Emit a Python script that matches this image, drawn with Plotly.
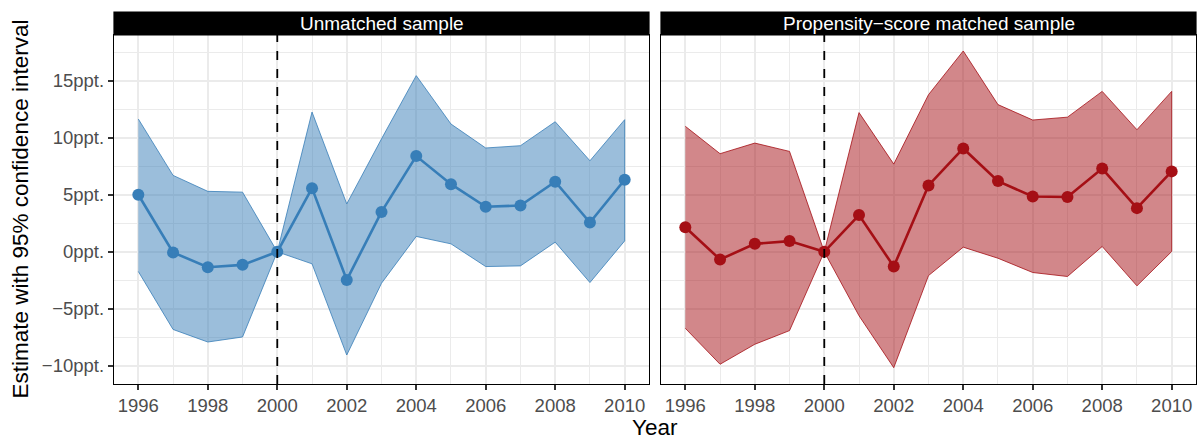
import plotly.graph_objects as go

years = list(range(1996, 2011))

# Unmatched sample
um_est = [5.0, -0.05, -1.35, -1.14, 0.0, 5.58, -2.46, 3.5, 8.39, 5.93, 3.95, 4.06, 6.14, 2.57, 6.32]
um_hi = [11.64, 6.7, 5.3, 5.23, 0.0, 12.25, 4.2, 9.9, 15.44, 11.2, 9.1, 9.3, 11.4, 7.98, 11.58]
um_lo = [-1.72, -6.8, -7.9, -7.46, 0.0, -1.05, -9.04, -2.75, 1.35, 0.7, -1.29, -1.23, 0.85, -2.69, 0.96]

# Propensity-score matched sample
pm_est = [2.16, -0.67, 0.7, 0.94, 0.0, 3.22, -1.29, 5.82, 9.06, 6.2, 4.85, 4.8, 7.3, 3.83, 7.05]
pm_hi = [11.0, 8.6, 9.53, 8.8, 0.0, 12.2, 7.69, 13.77, 17.6, 12.9, 11.55, 11.8, 14.06, 10.7, 14.06]
pm_lo = [-6.7, -9.85, -8.1, -6.9, 0.0, -5.6, -10.15, -2.08, 0.41, -0.56, -1.81, -2.16, 0.47, -2.98, 0.03]

panel_titles = ["Unmatched sample", "Propensity\u2212score matched sample"]
y_ticks = [-10, -5, 0, 5, 10, 15]
y_ticktext = [("\u2212" if v < 0 else "") + f"{abs(v)}ppt." for v in y_ticks]
x_ticks = list(range(1996, 2011, 2))

W, H = 1201, 439
FONT = "Liberation Sans, Arial, sans-serif"

fig = go.Figure()

series = [
    (um_est, um_hi, um_lo, "#377EB8", "rgba(55,126,184,0.5)", "x", "y"),
    (pm_est, pm_hi, pm_lo, "#A50F15", "rgba(165,15,21,0.5)", "x2", "y2"),
]
for est, hi, lo, col, fillc, xa, ya in series:
    fig.add_trace(go.Scatter(
        x=years + years[::-1], y=hi + lo[::-1], fill="toself", fillcolor=fillc,
        mode="lines", line=dict(color=col, width=0.8), xaxis=xa, yaxis=ya,
        showlegend=False, hoverinfo="skip"))
    fig.add_trace(go.Scatter(
        x=years, y=est, mode="lines+markers", line=dict(color=col, width=2.6),
        marker=dict(color=col, size=12), xaxis=xa, yaxis=ya, showlegend=False))

px = lambda v: v / W
py = lambda v: (H - v) / H

dom_x1 = [px(114), px(649)]
dom_x2 = [px(661), px(1196)]
dom_y = [py(384), py(35)]

grid = "#EBEBEB"
TICKFONT = dict(family=FONT, size=18.5, color="#4D4D4D")
xcommon = dict(range=[1995.3, 2010.7], tickvals=x_ticks, showgrid=True, gridcolor=grid, gridwidth=1.8,
               minor=dict(dtick=1, tick0=1995, showgrid=True, gridcolor=grid, gridwidth=1.0, ticks=""),
               showline=True, mirror=True, linecolor="black", linewidth=1.4,
               ticks="outside", ticklen=5, tickcolor="#333333", tickwidth=1.6,
               tickfont=TICKFONT, zeroline=False)
ycommon = dict(range=[-11.58, 19.0], tickvals=y_ticks, showgrid=True, gridcolor=grid, gridwidth=1.8,
               minor=dict(tickvals=[-7.5, -2.5, 2.5, 7.5, 12.5, 17.5], showgrid=True, gridcolor=grid, gridwidth=1.0, ticks=""),
               showline=True, mirror=True, linecolor="black", linewidth=1.4,
               ticks="outside", ticklen=5, tickcolor="#333333", tickwidth=1.6,
               tickfont=TICKFONT, zeroline=False, domain=dom_y)

fig.update_layout(
    width=W, height=H, margin=dict(l=0, r=0, t=0, b=0),
    paper_bgcolor="white", plot_bgcolor="white",
    xaxis=dict(xcommon, domain=dom_x1, anchor="y"),
    xaxis2=dict(xcommon, domain=dom_x2, anchor="y2"),
    yaxis=dict(ycommon, anchor="x", ticktext=y_ticktext),
    yaxis2=dict(ycommon, anchor="x2", showticklabels=False, ticks=""),
)

shapes = []
annotations = []
for i, (xa, ya, dom) in enumerate([("x", "y", dom_x1), ("x2", "y2", dom_x2)]):
    # zero line
    shapes.append(dict(type="line", xref=xa + " domain", yref=ya, x0=0, x1=1, y0=0, y1=0,
                       line=dict(color="#8C8C8C", width=1.8), layer="below"))
    # vertical dashed line at 2000
    shapes.append(dict(type="line", xref=xa, yref=ya + " domain", x0=2000, x1=2000, y0=0, y1=1,
                       line=dict(color="black", width=1.8, dash="dash")))
    # strip
    shapes.append(dict(type="rect", xref="paper", yref="paper", x0=dom[0], x1=dom[1],
                       y0=py(35), y1=py(12), fillcolor="black", line=dict(color="black", width=1.2)))
    annotations.append(dict(text=panel_titles[i], xref="paper", yref="paper",
                            x=(dom[0] + dom[1]) / 2, y=(py(35) + py(12)) / 2,
                            showarrow=False, font=dict(family=FONT, size=19, color="white"),
                            xanchor="center", yanchor="middle"))

annotations.append(dict(text="Year", xref="paper", yref="paper", x=px(655), y=py(427),
                        showarrow=False, font=dict(family=FONT, size=22.5, color="black"),
                        xanchor="center", yanchor="middle"))
annotations.append(dict(text="Estimate with 95% confidence interval", xref="paper", yref="paper",
                        x=px(20), y=py(209.5), textangle=-90, showarrow=False,
                        font=dict(family=FONT, size=22.5, color="black"),
                        xanchor="center", yanchor="middle"))

fig.update_layout(shapes=shapes, annotations=annotations)
fig.write_html("out.html")
